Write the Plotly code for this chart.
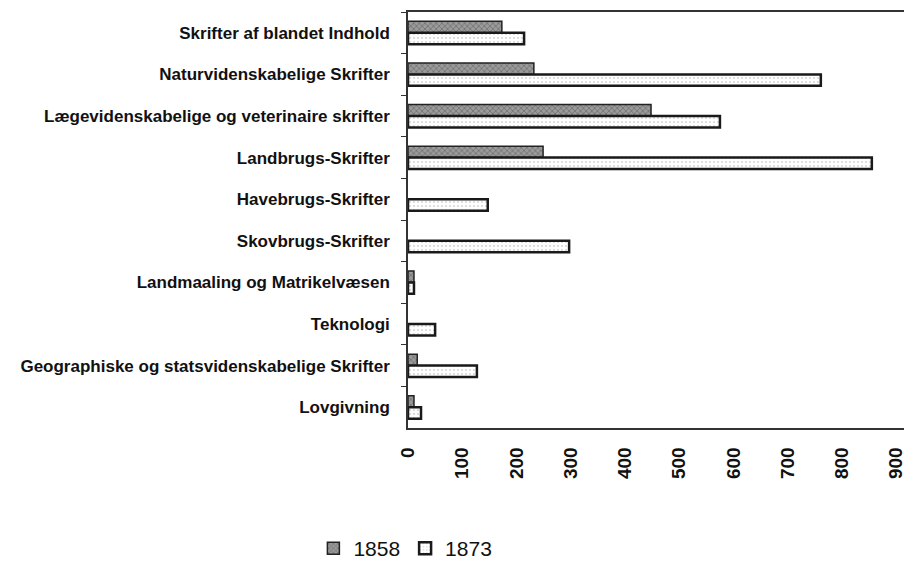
import plotly.graph_objects as go

categories = [
    "Skrifter af blandet Indhold",
    "Naturvidenskabelige Skrifter",
    "Lægevidenskabelige og veterinaire skrifter",
    "Landbrugs-Skrifter",
    "Havebrugs-Skrifter",
    "Skovbrugs-Skrifter",
    "Landmaaling og Matrikelvæsen",
    "Teknologi",
    "Geographiske og statsvidenskabelige Skrifter",
    "Lovgivning",
]
series_names = ["1858", "1873"]
values_1858 = [173, 232, 448, 249, None, None, 11, None, 17, 11]
values_1873 = [214, 761, 575, 855, 147, 297, 11, 50, 127, 24]
tick_values = [0, 100, 200, 300, 400, 500, 600, 700, 800, 900]
tick_labels = ["0", "100", "200", "300", "400", "500", "600", "700", "800", "900"]

fig = go.Figure()
fig.add_trace(go.Bar(
    y=categories, x=values_1858, name=series_names[0], orientation="h",
    marker=dict(color="#9a9a9a", line=dict(color="#222", width=1.5),
                pattern=dict(shape="x", fgcolor="#444", size=4, solidity=0.35)),
))
fig.add_trace(go.Bar(
    y=categories, x=values_1873, name=series_names[1], orientation="h",
    marker=dict(color="white", line=dict(color="#1a1a1a", width=2.5),
                pattern=dict(shape=".", fgcolor="#aaa", size=4, solidity=0.2)),
))

fig.update_layout(
    width=904, height=553,
    margin=dict(l=400, r=6, t=4, b=133, autoexpand=False),
    paper_bgcolor="white", plot_bgcolor="white",
    barmode="group", bargap=0.45, bargroupgap=0,
    font=dict(family="Liberation Sans, Arial, sans-serif", color="#111"),
    showlegend=True,
    legend=dict(orientation="h", x=-0.19, xanchor="left", y=-0.29, yanchor="middle",
                font=dict(size=21, color="#111"), traceorder="normal",
                itemwidth=30, tracegroupgap=0),
)
fig.update_xaxes(
    range=[0, 918], tickvals=tick_values, ticktext=tick_labels,
    tickangle=-90, tickfont=dict(size=19, color="#111", weight="bold"),
    ticklabelstandoff=10, automargin=False,
    showgrid=False, zeroline=False, showline=True, mirror=True,
    linecolor="#333", linewidth=1.5, ticks="",
)
fig.update_yaxes(
    autorange="reversed", tickson="boundaries", ticks="outside", ticklen=5,
    tickcolor="#333", tickfont=dict(size=17, color="#111", weight="bold"),
    ticklabelstandoff=13, automargin=False,
    showgrid=False, showline=True, mirror=True, linecolor="#333", linewidth=1.5,
)

fig.write_html("out.html")
